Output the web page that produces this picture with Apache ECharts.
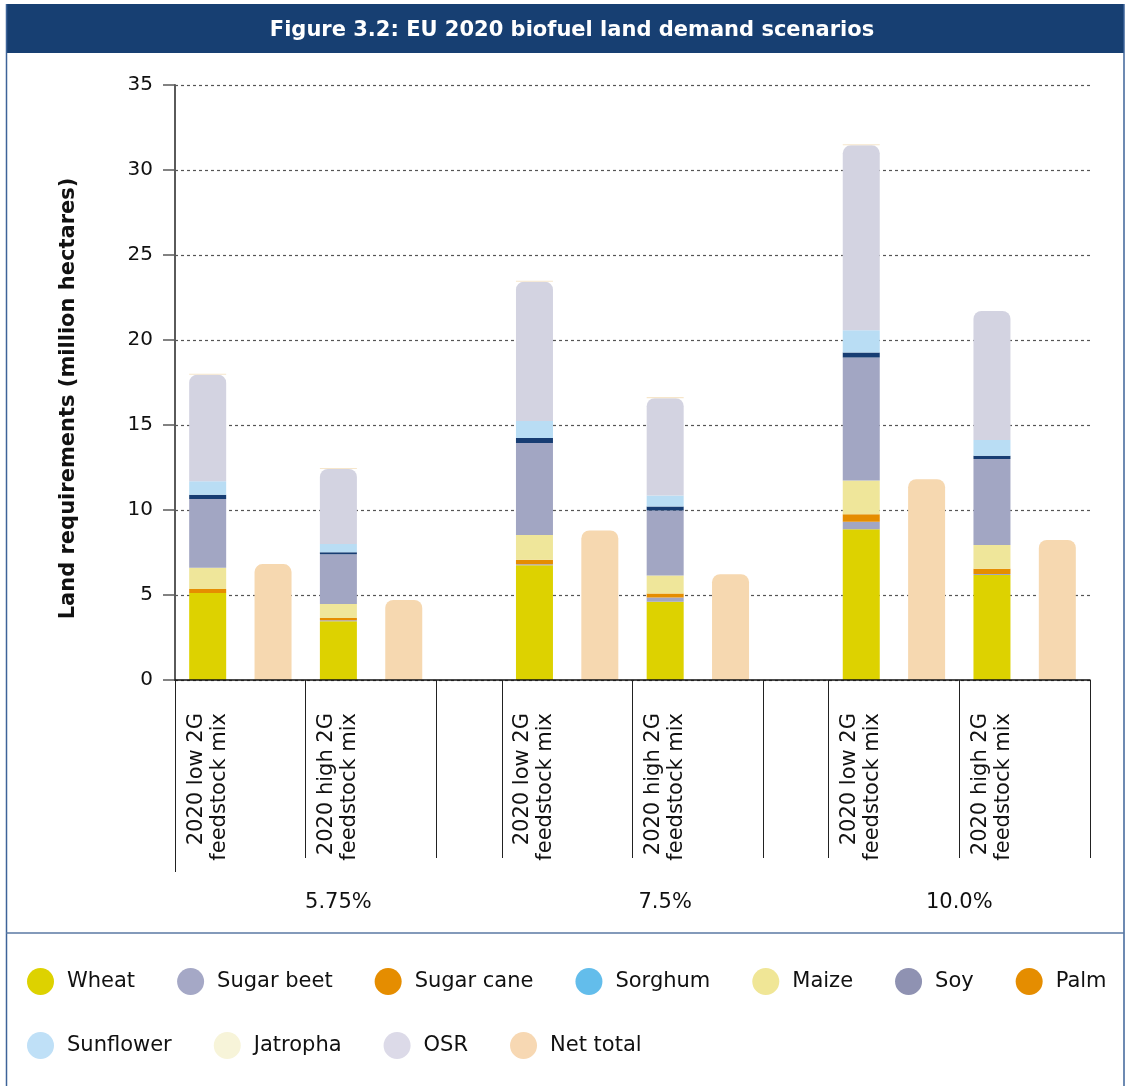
<!DOCTYPE html>
<html>
<head>
<meta charset="utf-8">
<script src="https://cdn.jsdelivr.net/npm/echarts@6/dist/echarts.min.js"></script>
<style>
  html, body { margin: 0; padding: 0; background: #fff; }
  #chart { width: 1131px; height: 1086px; }
</style>
</head>
<body>
<div id="chart"></div>
<script>
// Scenario groups (blending targets) and the two feedstock mixes in each group
const groups = ['5.75%', '7.5%', '10.0%'];
const mixes = ['2020 low 2G\nfeedstock mix', '2020 high 2G\nfeedstock mix'];

// Land requirement per crop, million hectares, one value per stacked column
// order: 5.75% low, 5.75% high, 7.5% low, 7.5% high, 10.0% low, 10.0% high
const wheat     = [5.12, 3.45, 6.75, 4.61, 8.87, 6.18];
const sugarBeet = [0.00, 0.06, 0.06, 0.24, 0.44, 0.06];
const sugarCane = [0.23, 0.14, 0.27, 0.24, 0.44, 0.31];
const sorghum   = [0.00, 0.00, 0.00, 0.00, 0.00, 0.00];
const maize     = [1.26, 0.82, 1.45, 1.06, 1.99, 1.39];
const soy       = [4.04, 2.92, 5.41, 3.82, 7.23, 5.06];
const palm      = [0.25, 0.12, 0.30, 0.24, 0.29, 0.19];
const sunflower = [0.79, 0.49, 1.00, 0.64, 1.31, 0.93];
const osr       = [6.27, 4.41, 8.19, 5.73, 10.88, 7.59];
const jatropha  = [0.06, 0.06, 0.06, 0.06, 0.06, 0.00];
const netTotal  = [6.82, 4.71, 8.80, 6.22, 11.81, 8.24];

// Y axis ticks
const yTicks = [0, 5, 10, 15, 20, 25, 30, 35];

// Slot layout: per mix a crop column and a net-total column, an empty slot between groups
const slots = [];
groups.forEach((g, gi) => {
  mixes.forEach((m, mi) => {
    const idx = gi * mixes.length + mi;
    slots.push({ kind: 'crop', idx, group: gi, mix: mi });
    slots.push({ kind: 'net', idx, group: gi, mix: mi });
  });
  if (gi < groups.length - 1) slots.push({ kind: 'gap', group: gi });
});
const nSlots = slots.length;

function cropData(arr) {
  return slots.map(s => (s.kind === 'crop' ? arr[s.idx] : null));
}
const netData = slots.map(s => (s.kind === 'net' ? netTotal[s.idx] : null));

// Tick boundaries and label positions on the overlay value axes
const tickVals = [];
const mixLabelPos = {};
const groupLabelPos = {};
slots.forEach((s, i) => {
  if (s.kind === 'crop') {
    tickVals.push(i);
    mixLabelPos[(i + 0.5).toFixed(2)] = mixes[s.mix];
  }
  if (s.kind === 'gap') tickVals.push(i);
});
tickVals.push(nSlots);
groups.forEach((g, gi) => {
  const first = slots.findIndex(s => s.group === gi);
  const next = slots.findIndex(s => s.group === gi + 1);
  const end = next === -1 ? nSlots : next;
  groupLabelPos[((first + end) / 2).toFixed(2)] = g;
});

const FONT = 'DejaVu Sans';

function barSeries(name, data, color, extra) {
  return Object.assign({
    name, type: 'bar', stack: 'land', data,
    xAxisIndex: 0, barWidth: 37,
    itemStyle: { color },
    emphasis: { disabled: true },
    animation: false
  }, extra || {});
}

// Legend entries, two rows
const legendRow1 = [
  { name: 'Wheat', color: '#DDD200' },
  { name: 'Sugar beet', color: '#A5A8C6' },
  { name: 'Sugar cane', color: '#E58D00' },
  { name: 'Sorghum', color: '#63BDEB' },
  { name: 'Maize', color: '#F0E696' },
  { name: 'Soy', color: '#8F92B2' },
  { name: 'Palm', color: '#E58D00' }
];
const legendRow2 = [
  { name: 'Sunflower', color: '#BFE0F7' },
  { name: 'Jatropha', color: '#F7F4D9' },
  { name: 'OSR', color: '#DCDAE8' },
  { name: 'Net total', color: '#F7D8B3' }
];

function legendRow(items, top) {
  return {
    left: 27, top, padding: 0, orient: 'horizontal',
    icon: 'circle', itemWidth: 27, itemHeight: 29, itemGap: 42,
    selectedMode: false,
    textStyle: { fontFamily: FONT, fontSize: 21, color: '#111', padding: [0, 0, 0, 8] },
    data: items.map(l => ({ name: l.name, itemStyle: { color: l.color } }))
  };
}

const chart = echarts.init(document.getElementById('chart'), null, { renderer: 'canvas' });

chart.setOption({
  animation: false,
  backgroundColor: '#ffffff',
  textStyle: { fontFamily: FONT },
  title: {
    text: 'Figure 3.2: EU 2020 biofuel land demand scenarios',
    left: 572, top: 20, textAlign: 'center', padding: 0,
    textStyle: { color: '#ffffff', fontSize: 21, fontWeight: 'bold', fontFamily: FONT }
  },
  graphic: [
    { type: 'rect', z: -1, shape: { x: 6, y: 4, width: 1118, height: 49 }, style: { fill: '#173F72' } },
    { type: 'line', shape: { x1: 6.5, y1: 4, x2: 6.5, y2: 1086 }, style: { stroke: '#3D6399', lineWidth: 1.5 } },
    { type: 'line', shape: { x1: 1124, y1: 4, x2: 1124, y2: 1086 }, style: { stroke: '#3D6399', lineWidth: 1.5 } },
    { type: 'line', shape: { x1: 6, y1: 933, x2: 1124, y2: 933 }, style: { stroke: '#5A78A3', lineWidth: 1.5 } }
  ],
  legend: [legendRow(legendRow1, 968), legendRow(legendRow2, 1032)],
  grid: { left: 175, right: 41, top: 85, bottom: 406, containLabel: false },
  xAxis: [
    {
      type: 'category', data: slots.map((s, i) => String(i)),
      show: false, boundaryGap: true
    },
    {
      type: 'value', min: 0, max: nSlots, position: 'bottom', z: 5,
      axisLine: { show: true, onZero: false, lineStyle: { color: '#111', width: 1.5 } },
      splitLine: { show: false },
      axisTick: { show: true, customValues: tickVals, length: 178, lineStyle: { color: '#222', width: 1 } },
      axisLabel: {
        show: true, customValues: Object.keys(mixLabelPos).map(Number),
        rotate: 90, margin: 33, fontSize: 21, lineHeight: 23, color: '#111', fontFamily: FONT,
        formatter: v => mixLabelPos[v.toFixed(2)] || ''
      }
    },
    {
      type: 'value', min: 0, max: nSlots, position: 'bottom',
      axisLine: { show: false },
      splitLine: { show: false },
      axisTick: { show: true, customValues: [0], length: 192, lineStyle: { color: '#222', width: 1 } },
      axisLabel: {
        show: true, customValues: Object.keys(groupLabelPos).map(Number),
        margin: 212, fontSize: 21, color: '#111', fontFamily: FONT,
        formatter: v => groupLabelPos[v.toFixed(2)] || ''
      }
    }
  ],
  yAxis: {
    type: 'value', min: yTicks[0], max: yTicks[yTicks.length - 1], interval: 5,
    name: 'Land requirements (million hectares)',
    nameLocation: 'middle', nameGap: 96,
    nameTextStyle: { fontSize: 21, fontWeight: 'bold', color: '#111', fontFamily: FONT, padding: [0, 32, 0, 0] },
    axisLine: { show: true, lineStyle: { color: '#5a5a5a', width: 2 } },
    axisTick: { show: true, length: 12, lineStyle: { color: '#5a5a5a', width: 1.5 } },
    axisLabel: { fontSize: 20, color: '#111', margin: 22, fontFamily: FONT },
    splitLine: { show: true, lineStyle: { color: '#555', type: [3, 3], width: 1.2 } }
  },
  series: [
    barSeries('Wheat', cropData(wheat), '#DDD200'),
    barSeries('Sugar beet', cropData(sugarBeet), '#A2A6C3'),
    barSeries('Sugar cane', cropData(sugarCane), '#E58D00'),
    barSeries('Sorghum', cropData(sorghum), '#63BDEB'),
    barSeries('Maize', cropData(maize), '#EFE69A'),
    barSeries('Soy', cropData(soy), '#A2A6C3'),
    barSeries('Palm', cropData(palm), '#173D73'),
    barSeries('Sunflower', cropData(sunflower), '#B9DDF4'),
    barSeries('OSR', cropData(osr), '#D3D3E1', { itemStyle: { color: '#D3D3E1', borderRadius: [8, 8, 0, 0] } }),
    barSeries('Jatropha', cropData(jatropha), '#F6E6CB'),
    barSeries('Net total', netData, '#F6D8B0', { itemStyle: { color: '#F6D8B0', borderRadius: [8, 8, 0, 0] } })
  ]
});
</script>
</body>
</html>
